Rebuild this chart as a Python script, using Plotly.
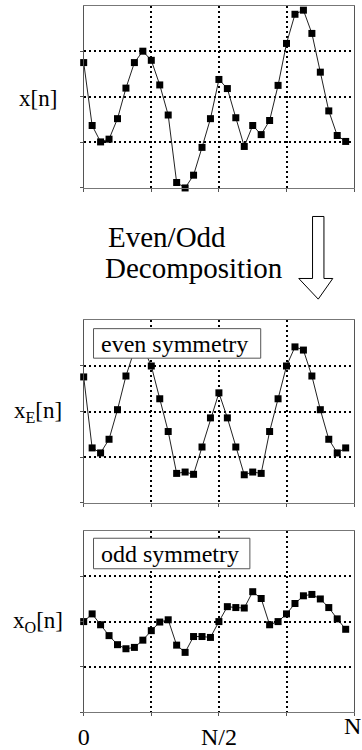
import plotly.graph_objects as go

# ---- data ----
n_index = list(range(32))
x_signal = [2.75, 1.37, 1.01, 1.07, 1.52, 2.19, 2.75, 3.00, 2.80, 2.26, 1.60, 0.12,
            0.00, 0.28, 0.89, 1.52, 2.38, 2.18, 1.54, 0.91, 1.37, 1.17, 1.48, 2.25,
            3.17, 3.81, 3.90, 3.39, 2.54, 1.69, 1.15, 1.02]
x_even = [2.76, 1.20, 1.09, 1.39, 2.04, 2.78, 3.35, 3.42, 3.00, 2.28, 1.56, 0.64,
          0.67, 0.62, 1.22, 1.86, 2.41, 1.86, 1.22, 0.61, 0.67, 0.64, 1.56, 2.28,
          3.00, 3.42, 3.35, 2.78, 2.04, 1.39, 1.09, 1.20]
x_odd = [0.00, 0.17, -0.07, -0.31, -0.51, -0.60, -0.57, -0.41, -0.20, -0.01, 0.04, -0.52,
         -0.68, -0.33, -0.33, -0.35, 0.00, 0.33, 0.31, 0.30, 0.66, 0.51, -0.07, 0.00,
         0.17, 0.40, 0.57, 0.60, 0.50, 0.31, 0.06, -0.17]
x_tickvals = [0, 8, 16, 24, 32]
x_ticktext = ["0", "", "N/2", "", ""]
end_label = "N"
panel_labels = ["x[n]", "x<sub>E</sub>[n]", "x<sub>O</sub>[n]"]
box_labels = ["even symmetry", "odd symmetry"]
caption_lines = ["Even/Odd", "Decomposition"]

W, H = 362, 750
def px(x): return x / W
def py(y): return 1 - y / H

SERIF = "Liberation Serif, Times New Roman, serif"

fig = go.Figure()
series = [x_signal, x_even, x_odd]
for i, ys in enumerate(series):
    sfx = "" if i == 0 else str(i + 1)
    fig.add_trace(go.Scatter(
        x=n_index, y=ys, mode="lines+markers",
        line=dict(color="#222", width=1),
        marker=dict(symbol="square", size=7, color="black"),
        xaxis="x" + sfx, yaxis="y" + sfx, showlegend=False, cliponaxis=False))

domains = [(py(191), py(5.7)), (py(510.7), py(325.7)), (py(723.7), py(539.7))]
yranges = [[0, 4], [0, 4], [-2, 2]]
ytv = [[0, 1, 2, 3], [0, 1, 2, 3], [-2, -1, 0, 1]]

layout = dict(width=W, height=H, margin=dict(l=0, r=0, t=0, b=0),
              plot_bgcolor="white", paper_bgcolor="white", showlegend=False)
for i in range(3):
    sfx = "" if i == 0 else str(i + 1)
    layout["xaxis" + sfx] = dict(
        domain=[px(79), px(354)], anchor="y" + sfx, range=[0, 32],
        tickvals=x_tickvals, ticktext=x_ticktext, showticklabels=(i == 2),
        tickfont=dict(family=SERIF, size=24, color="black"),
        ticks="outside", ticklen=3, tickcolor="#555",
        showgrid=True, gridcolor="black", gridwidth=2, griddash="2px,3px",
        showline=True, linecolor="#777", linewidth=1, mirror=True,
        zeroline=False, fixedrange=True)
    layout["yaxis" + sfx] = dict(
        domain=list(domains[i]), anchor="x" + sfx, range=yranges[i],
        tickvals=ytv[i], showticklabels=False,
        ticks="outside", ticklen=3, tickcolor="#555",
        showgrid=True, gridcolor="black", gridwidth=2, griddash="2px,3px",
        showline=True, linecolor="#555", linewidth=1, mirror=True,
        zeroline=False, fixedrange=True)
fig.update_layout(**layout)

# last x tick label, kept inside the page (fixed small box so it is not pushed up)
fig.add_annotation(text=end_label, x=1, y=py(738), xref="paper", yref="paper",
                   showarrow=False, xanchor="right", yanchor="middle",
                   height=20, valign="middle", borderpad=0,
                   font=dict(family=SERIF, size=24, color="black"))

# panel labels on the left
label_y = [100, 419, 632]
for lab, yy in zip(panel_labels, label_y):
    fig.add_annotation(text=lab, x=px(33), y=py(yy), xref="paper", yref="paper",
                       showarrow=False, xanchor="center", yanchor="middle",
                       font=dict(family=SERIF, size=23, color="black"))

# boxed labels: white rectangle + text
boxes = [(89, 334, 259, 364), (89, 547, 248, 578)]
for lab, (x0, y0, x1, y1) in zip(box_labels, boxes):
    fig.add_shape(type="rect", xref="paper", yref="paper",
                  x0=px(x0), x1=px(x1), y0=py(y1), y1=py(y0),
                  line=dict(color="#555", width=1), fillcolor="white", layer="above")
    fig.add_annotation(text=lab, x=px(95), y=py((y0 + y1) / 2 + 0.5), xref="paper", yref="paper",
                       showarrow=False, xanchor="left", yanchor="middle",
                       font=dict(family=SERIF, size=24, color="black"))

# caption
fig.add_annotation(text=caption_lines[0], x=px(102), y=py(241), xref="paper", yref="paper",
                   showarrow=False, xanchor="left", yanchor="middle",
                   font=dict(family=SERIF, size=29, color="black"))
fig.add_annotation(text=caption_lines[1], x=px(99), y=py(272), xref="paper", yref="paper",
                   showarrow=False, xanchor="left", yanchor="middle",
                   font=dict(family=SERIF, size=29, color="black"))

# hollow down arrow
pts = [(311.7, 220), (323.3, 220), (323.3, 283), (332.3, 283), (317.5, 304),
       (297.7, 283), (311.7, 283)]
path = "M " + " L ".join(f"{px(a):.5f},{py(b):.5f}" for a, b in pts) + " Z"
fig.add_shape(type="path", path=path, xref="paper", yref="paper",
              line=dict(color="black", width=1), fillcolor="white")

fig.write_html("out.html", config={"displayModeBar": False},
               post_script="document.body.style.margin='0';document.body.style.overflow='hidden';"
                           "document.documentElement.style.overflow='hidden';")
